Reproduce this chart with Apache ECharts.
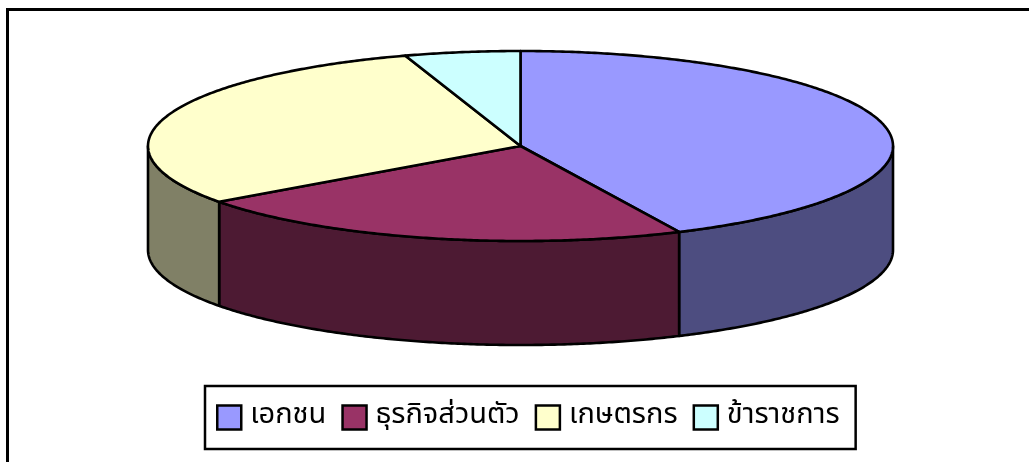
<!DOCTYPE html>
<html>
<head>
<meta charset="utf-8">
<script src="https://cdn.jsdelivr.net/npm/echarts@6/dist/echarts.min.js"></script>
<style>
html,body{margin:0;padding:0;background:#fff;}
#chart{width:1029px;height:462px;}
</style>
</head>
<body>
<div id="chart"></div>
<script>
const categories = ['เอกชน', 'ธุรกิจส่วนตัว', 'เกษตรกร', 'ข้าราชการ'];
const values = [43, 22, 30, 5];
const topColors = ['#9999FF', '#993366', '#FFFFCC', '#CCFFFF'];
const sideColors = ['#4D4D80', '#4D1A33', '#808066', '#668080'];

const geom = { cx: 520.5, cy: 146, rx: 372.5, ry: 95, depth: 104 };
const total = values.reduce((a, b) => a + b, 0);

function pt(tDeg, d) {
  const t = tDeg * Math.PI / 180;
  return [geom.cx + geom.rx * Math.sin(t), geom.cy - geom.ry * Math.cos(t) + d];
}
function arc(a, b, d) {
  const pts = [];
  const n = Math.max(2, Math.ceil(Math.abs(b - a) / 0.5));
  for (let k = 0; k <= n; k++) pts.push(pt(a + (b - a) * k / n, d));
  return pts;
}

function renderItem(params, api) {
  const i = params.seriesIndex;
  let before = 0;
  for (let k = 0; k < i; k++) before += values[k];
  const a = before / total * 360;
  const b = (before + api.value(0)) / total * 360;
  const children = [];
  const s = Math.max(a, 90), e = Math.min(b, 270);
  if (e > s) {
    const topArc = arc(s, e, 0);
    const botArc = arc(e, s, geom.depth);
    children.push({
      type: 'polygon',
      shape: { points: topArc.concat(botArc) },
      style: { fill: sideColors[i], stroke: '#000', lineWidth: 2.6, lineJoin: 'round' }
    });
  }
  const topPts = [[geom.cx, geom.cy]].concat(arc(a, b, 0));
  children.push({
    type: 'polygon',
    shape: { points: topPts },
    style: { fill: topColors[i], stroke: '#000', lineWidth: 2.6, lineJoin: 'round' }
  });
  return { type: 'group', children: children };
}

const series = categories.map((name, i) => ({
  type: 'custom',
  name: name,
  coordinateSystem: 'none',
  renderItem: renderItem,
  data: [[values[i]]],
  itemStyle: { color: topColors[i] },
  silent: true,
  animation: false
}));

const chart = echarts.init(document.getElementById('chart'));
chart.setOption({
  backgroundColor: '#fff',
  animation: false,
  graphic: [{
    type: 'rect',
    shape: { x: 7.5, y: 9.5, width: 1100, height: 600 },
    style: { fill: 'none', stroke: '#000', lineWidth: 3 },
    silent: true
  }],
  legend: {
    left: 205,
    top: 386,
    orient: 'horizontal',
    backgroundColor: '#fff',
    borderColor: '#000',
    borderWidth: 2.5,
    borderRadius: 0,
    padding: [17, 16, 17, 11],
    itemWidth: 24,
    itemHeight: 24,
    itemGap: 15,
    icon: 'rect',
    selectedMode: false,
    itemStyle: { borderColor: '#000', borderWidth: 2.5 },
    textStyle: { fontSize: 29, lineHeight: 26, color: '#000', fontFamily: 'Tahoma, "Noto Sans Thai", "Noto Sans", sans-serif', padding: [0, 0, 0, 4] },
    data: categories
  },
  series: series
});
</script>
</body>
</html>
